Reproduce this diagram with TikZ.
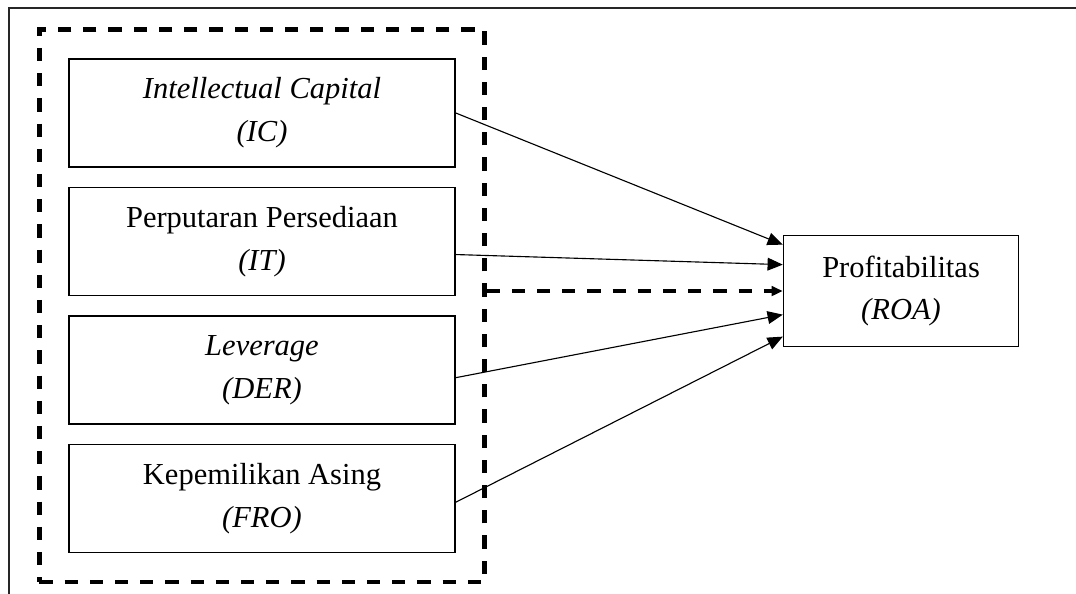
\documentclass[tikz,border=0pt]{standalone}
\usepackage{fontspec}
\setmainfont{Liberation Serif}
\usepackage{tikz}
\usetikzlibrary{positioning, fit, arrows.meta}
\tikzstyle{vblock} = [rectangle, draw, line width=1.1pt, fill=white,
align=center, minimum width=9.65cm, minimum height=2.7cm, inner sep=0pt]
\tikzstyle{yblock} = [rectangle, draw, line width=1.1pt, fill=white,
align=center, minimum width=5.875cm, minimum height=2.775cm, inner sep=0pt]
\tikzstyle{group} = [rectangle, draw, dashed, line width=3pt, dash pattern=on 0.33cm off 0.3cm, inner sep=0.72cm]
\tikzstyle{arrow} = [line width=0.8pt, -{Triangle[length=0.38cm, width=0.32cm]}]
\tikzstyle{dasharrow} = [line width=3pt, dash pattern=on 0.33cm off 0.3cm, -{Triangle[length=0.28cm, width=0.24cm]}]

\begin{document}
\begin{tikzpicture}[node distance=0.475cm, font=\fontsize{21.7}{30.5}\selectfont]
    \useasboundingbox (0,0) rectangle (26.9,-14.85);
    \draw [line width=2pt, black!85] (0.225,-14.85) -- (0.225,-0.2) -- (26.9,-0.2);

	\node (IC) [vblock] at (6.55,-2.825) {\textit{Intellectual Capital}\\\textit{(IC)}};
	\node (IT) [vblock, below=of IC] {Perputaran Persediaan\\\textit{(IT)}};
	\node (DER) [vblock, below=of IT] {\textit{Leverage}\\\textit{(DER)}};
	\node (FRO) [vblock, below=of DER] {Kepemilikan Asing\\\textit{(FRO)}};
	\node (Group) [group, fit=(IC)(FRO)] {};
	\node (ROA) [yblock, right=8.175cm of IT, yshift=-1.2375cm] {Profitabilitas\\\textit{(ROA)}};

	\draw [arrow] (IC.east) -- ([yshift=1.16cm]ROA.west);
	\draw [arrow] ([yshift=-0.325cm]IT.east) -- ([yshift=0.66cm]ROA.west);
	\draw [dasharrow] (Group.east |- ROA.west) -- (ROA.west);
	\draw [arrow] ([yshift=-0.19cm]DER.east) -- ([yshift=-0.59cm]ROA.west);
	\draw [arrow] ([yshift=-0.09cm]FRO.east) -- ([yshift=-1.14cm]ROA.west);
\end{tikzpicture}
\end{document}
